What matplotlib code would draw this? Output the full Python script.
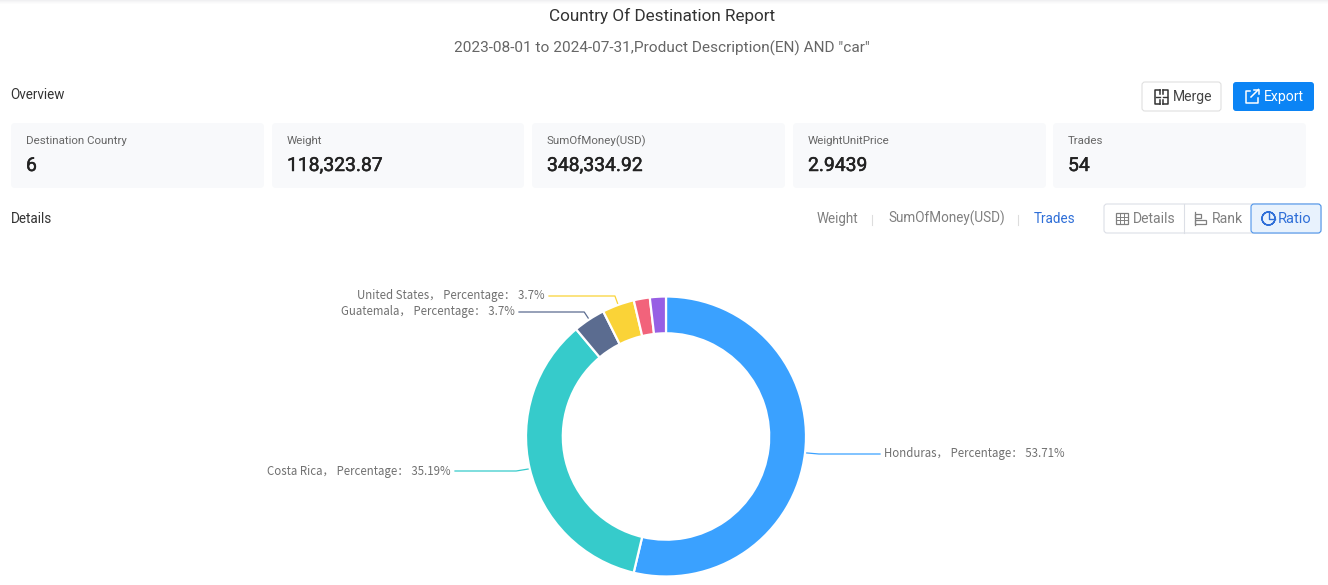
#!/usr/bin/env python3
import math

import matplotlib
matplotlib.use("Agg")
import matplotlib.patheffects as pe
import matplotlib.pyplot as plt
from matplotlib.patches import FancyBboxPatch, Rectangle, Wedge

W, H = 1328, 585

countries = ["Honduras", "Costa Rica", "Guatemala", "United States", "Other A", "Other B"]
percentages = [53.71, 35.19, 3.7, 3.7, 1.85, 1.85]
card_titles = ["Destination Country", "Weight", "SumOfMoney(USD)", "WeightUnitPrice", "Trades"]
card_values = ["6", "118,323.87", "348,334.92", "2.9439", "54"]
metric_tabs = ["Weight", "SumOfMoney(USD)", "Trades"]

colors = ["#3aa1ff", "#36cbcb", "#5b6c90", "#fad337", "#f2637b", "#975fe4"]
card_x = [(11, 264), (272, 524), (532, 785), (793, 1046), (1053, 1306)]
tab_x = [817, 888, 1034]
# leader line: end x, y
leaders = {
    "Honduras": (880, 454),
    "Costa Rica": (455, 471),
    "Guatemala": (519, 312),
    "United States": (549, 296),
}

CX, CY, R = 666, 436.5, 140
UI = "Roboto"
CJK = ["Noto Sans CJK SC", "DejaVu Sans"]


def px(n):
    return n * 72 / 100


def box(ax, x0, y0, x1, y1, fc, ec="none", lw=0.8, r=3):
    ax.add_patch(FancyBboxPatch((x0 + r, y0 + r), x1 - x0 - 2 * r, y1 - y0 - 2 * r,
                                boxstyle=f"round,pad={r},rounding_size={r}",
                                fc=fc, ec=ec, lw=lw))


def label(ax, x, y, s, size, color, ha="left", **kw):
    return ax.text(x, y, s, ha=ha, va="baseline", family=UI, fontsize=px(size), color=color, **kw)


def main():
    fig = plt.figure(figsize=(W / 100, H / 100), dpi=100, facecolor="white")
    ax = fig.add_axes([0, 0, 1, 1])
    ax.set_xlim(0, W)
    ax.set_ylim(H, 0)
    ax.axis("off")

    # faint shadow of the page header
    for i, c in enumerate(["#f0f0f2", "#f5f5f6", "#f9f9fa", "#fcfcfc"]):
        ax.add_patch(Rectangle((0, i), W, 1, fc=c, ec="none"))

    label(ax, 662, 21.5, "Country Of Destination Report", 17.1, "#333333", ha="center")
    label(ax, 662, 52.5, '2023-08-01 to 2024-07-31,Product Description(EN) AND "car"',
          15.4, "#666666", ha="center")
    label(ax, 10.5, 99, "Overview", 13.5, "#333333")
    label(ax, 10.5, 223, "Details", 13.5, "#333333")

    # overview cards
    for (x0, x1), title, value in zip(card_x, card_titles, card_values):
        box(ax, x0, 123, x1, 188, "#f8f9fb", r=4)
        label(ax, x0 + 14.5, 144, title, 11.5, "#666666")
        t = label(ax, x0 + 15, 171, value, 19.3, "#222222")
        t.set_path_effects([pe.withStroke(linewidth=0.35, foreground="#222222")])

    # merge / export buttons
    box(ax, 1142, 82, 1221, 111, "white", ec="#e0e0e0")
    ink = "#333333"
    ax.plot([1160, 1155, 1155, 1160], [90, 90, 104, 104], color=ink, lw=1.1)
    ax.plot([1163, 1168, 1168, 1163], [90, 90, 104, 104], color=ink, lw=1.1)
    ax.plot([1160, 1160], [90, 94], color=ink, lw=1.1)
    ax.plot([1163, 1163], [90, 94], color=ink, lw=1.1)
    ax.plot([1160, 1160], [100, 104], color=ink, lw=1.1)
    ax.plot([1163, 1163], [100, 104], color=ink, lw=1.1)
    ax.plot([1156, 1160], [97, 97], color=ink, lw=1.0)
    ax.plot([1163, 1167], [97, 97], color=ink, lw=1.0)
    label(ax, 1173, 101.5, "Merge", 14, "#444444")
    box(ax, 1233, 82, 1314, 111, "#0b84f5")
    ax.plot([1250, 1245.5, 1245.5, 1258, 1258, ], [91, 91, 103, 103, 98], color="white", lw=1.1)
    ax.plot([1251, 1258.5], [97, 89.5], color="white", lw=1.1)
    ax.plot([1254, 1258.5, 1258.5], [89.5, 89.5, 94], color="white", lw=1.1)
    label(ax, 1264, 101.5, "Export", 14, "white")

    # metric tabs
    for x, tab in zip(tab_x, metric_tabs):
        label(ax, x, 223, tab, 13.5, "#2f6fd8" if tab == "Trades" else "#808080")
    for x in (872, 1018):
        ax.plot([x, x], [215, 225], color="#dddddd", lw=0.8)

    # view switch
    box(ax, 1104, 204, 1321, 233, "white", ec="#dcdfe6")
    box(ax, 1251, 204, 1321, 233, "#e8f2fd", ec="#4d94ea")
    ax.plot([1184, 1184], [204, 233], color="#dcdfe6", lw=0.8)
    ax.add_patch(Rectangle((1115.5, 213), 12.5, 11, fc="none", ec="#808080", lw=0.9))
    for y in (216.5, 220):
        ax.plot([1115.5, 1128], [y, y], color="#808080", lw=0.7)
    for x in (1119.5, 1123.5):
        ax.plot([x, x], [213, 224], color="#808080", lw=0.7)
    label(ax, 1133, 223, "Details", 14, "#808080")
    ax.plot([1195, 1195], [212, 225], color="#808080", lw=0.9)
    ax.add_patch(Rectangle((1195, 213.5), 6, 4, fc="none", ec="#808080", lw=0.9))
    ax.add_patch(Rectangle((1195, 219.5), 11, 4, fc="none", ec="#808080", lw=0.9))
    label(ax, 1212, 223, "Rank", 14, "#808080")
    ax.add_patch(Wedge((1268.5, 218.5), 6.5, 0, 360, width=0.01, fc="none", ec="#2f6fd8", lw=1.0))
    ax.plot([1268.5, 1268.5, 1275], [212, 218.5, 218.5], color="#2f6fd8", lw=1.0)
    label(ax, 1278, 223, "Ratio", 14.6, "#2f6fd8")

    # the donut gets its own square axes so angles are not flipped
    pie_ax = fig.add_axes([(CX - R - 1) / W, 1 - (CY + R + 1) / H, (2 * R + 2) / W, (2 * R + 2) / H])
    pie_ax.pie(percentages, colors=colors, startangle=90, counterclock=False, radius=R / (R + 1),
               wedgeprops={"width": 36.8 / (R + 1), "edgecolor": "white", "linewidth": 1.6})
    pie_ax.set_xlim(-1, 1)
    pie_ax.set_ylim(-1, 1)
    pie_ax.patch.set_alpha(0)

    # leader lines come from each slice's mid angle
    total = sum(percentages)
    done = 0
    for name, value, color in zip(countries, percentages, colors):
        mid = (done + value / 2) / total * 2 * math.pi
        done += value
        if name not in leaders:
            continue
        end_x, y = leaders[name]
        sx, sy = CX + (R + 1) * math.sin(mid), CY - (R + 1) * math.cos(mid)
        ex = CX + (R + 14) * math.sin(mid)
        if abs(y - sy) > 6:
            ex = sx - (y - sy) * math.tan(mid)
        right = end_x > CX
        ax.plot([sx, ex, end_x], [sy, y, y], color=color, lw=0.9, solid_joinstyle="round")
        text = f"{name}， Percentage： {value:g}%"
        ax.text(end_x + (4 if right else -4), y + 3.5, text, ha="left" if right else "right",
                va="baseline", family=CJK, fontsize=px(11.45), color="#707070")

    fig.savefig("out.png", dpi=100)


if __name__ == "__main__":
    main()
